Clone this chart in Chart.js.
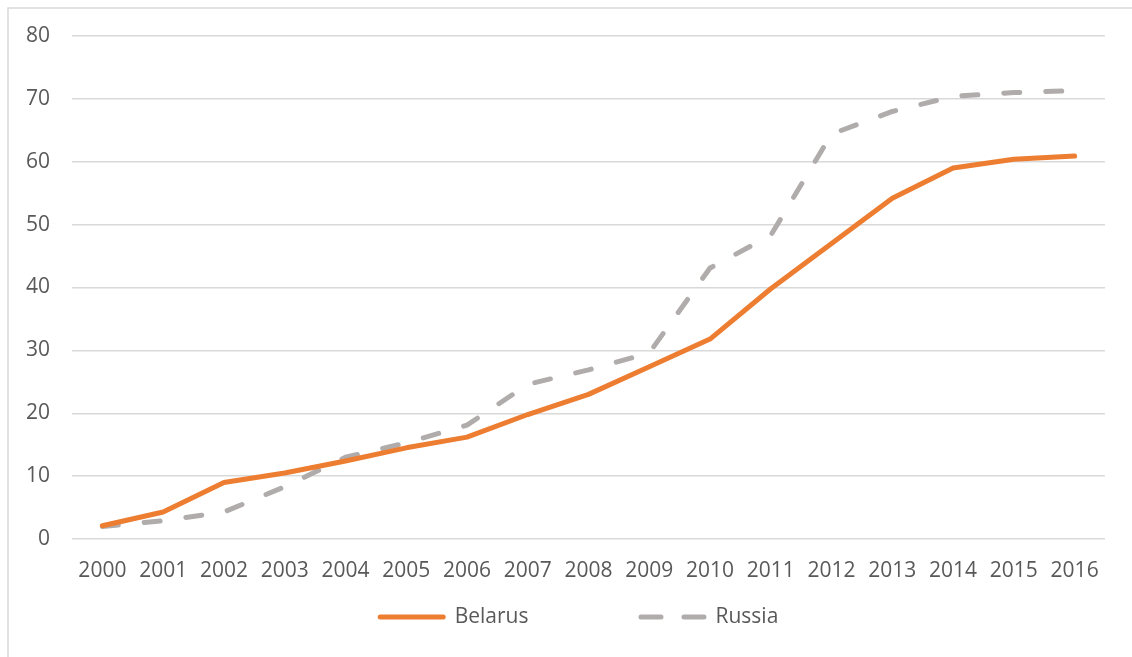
<!DOCTYPE html>
<html>
<head>
<meta charset="utf-8">
<script src="https://cdn.jsdelivr.net/npm/chart.js@4.4.0/dist/chart.umd.min.js"></script>
<style>
  html, body { margin: 0; padding: 0; background: #fff; }
  #wrap { position: relative; width: 1132px; height: 657px; }
</style>
</head>
<body>
<div id="wrap"><canvas id="grafico"></canvas></div>
<script>
// Datos de la serie
const years = ['2000', '2001', '2002', '2003', '2004', '2005', '2006', '2007', '2008',
               '2009', '2010', '2011', '2012', '2013', '2014', '2015', '2016'];
const belarus = [2.1, 4.3, 9.0, 10.5, 12.4, 14.5, 16.2, 19.8, 23.0,
                 27.4, 31.8, 39.8, 47.0, 54.2, 59.0, 60.4, 60.9];
const russia = [2.0, 2.9, 4.3, 8.3, 13.0, 15.3, 18.1, 24.6, 26.9,
                29.6, 43.1, 48.3, 64.4, 68.0, 70.4, 71.0, 71.3];
const yTicks = [0, 10, 20, 30, 40, 50, 60, 70, 80];

const fuente = "'Open Sans', 'DejaVu Sans', sans-serif";
const tamano = 21;
const gris = '#595959';

// Marco gris claro arriba y a la izquierda
const marco = {
    id: 'marco',
    beforeDraw(chart) {
        const c = chart.ctx;
        c.save();
        c.strokeStyle = '#d9d9d9';
        c.lineWidth = 1.5;
        c.beginPath();
        c.moveTo(8, chart.height);
        c.lineTo(8, 8);
        c.lineTo(chart.width, 8);
        c.stroke();
        c.restore();
    }
};

// Leyenda inferior con mucho espacio entre las series
const leyenda = {
    id: 'leyenda',
    afterDraw(chart) {
        const c = chart.ctx;
        const muestra = 68, sep = 9, hueco = 110;
        const y = chart.chartArea.bottom + 78;
        c.save();
        c.font = tamano + 'px ' + fuente;
        c.textBaseline = 'middle';
        const items = chart.data.datasets.map(ds => ({ ds, w: muestra + sep + c.measureText(ds.label).width }));
        const total = items.reduce((s, it) => s + it.w, 0) + hueco * (items.length - 1);
        let x = chart.width / 2 + 12 - total / 2;
        items.forEach(({ ds, w }) => {
            c.strokeStyle = ds.borderColor;
            c.lineWidth = ds.borderWidth;
            c.lineCap = 'round';
            c.setLineDash(ds.borderDash ? [20, 23] : []);
            c.beginPath();
            c.moveTo(x + 2.5, y);
            c.lineTo(x + muestra - 2.5, y);
            c.stroke();
            c.setLineDash([]);
            c.fillStyle = gris;
            c.fillText(ds.label, x + muestra + sep, y);
            x += w + hueco;
        });
        c.restore();
    }
};

new Chart(document.getElementById('grafico'), {
    type: 'line',
    data: {
        labels: years,
        datasets: [{
            label: 'Belarus',
            data: belarus,
            borderColor: '#ED7D31',
            backgroundColor: '#ED7D31',
            borderWidth: 5,
            borderCapStyle: 'round',
            borderJoinStyle: 'round',
            pointRadius: 0,
            tension: 0,
            fill: false
        }, {
            label: 'Russia',
            data: russia,
            borderColor: '#B0ACAB',
            backgroundColor: '#B0ACAB',
            borderWidth: 5,
            borderDash: [16, 26],
            borderCapStyle: 'round',
            borderJoinStyle: 'round',
            pointRadius: 0,
            tension: 0,
            fill: false
        }]
    },
    options: {
        responsive: true,
        maintainAspectRatio: false,
        animation: false,
        layout: {
            padding: { top: 36, left: 0, right: 27, bottom: 62 }
        },
        scales: {
            x: {
                offset: true,
                grid: { display: false, drawTicks: false },
                border: { display: false },
                ticks: {
                    color: gris,
                    font: { family: fuente, size: tamano },
                    padding: 19,
                    maxRotation: 0,
                    autoSkip: false
                },
                afterFit(scale) { scale.height = 56; }
            },
            y: {
                min: 0,
                max: 80,
                afterBuildTicks(scale) {
                    scale.ticks = yTicks.map(v => ({ value: v }));
                },
                grid: { color: '#d9d9d9', lineWidth: 1.5, drawTicks: false },
                border: { display: false },
                ticks: {
                    color: gris,
                    font: { family: fuente, size: tamano },
                    padding: 22
                },
                afterFit(scale) { scale.width = 72; }
            }
        },
        plugins: {
            legend: { display: false },
            tooltip: { enabled: false }
        }
    },
    plugins: [marco, leyenda]
});
</script>
</body>
</html>
